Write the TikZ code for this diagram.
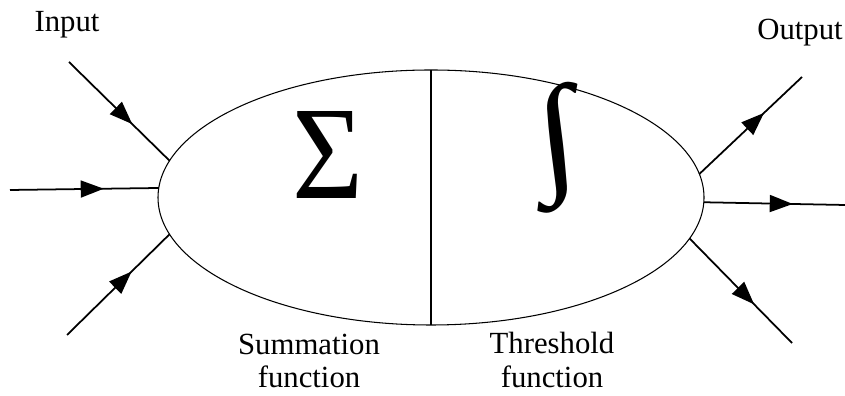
\documentclass[tikz,border=0pt]{standalone}
\usepackage{fontspec}
\setmainfont{Liberation Serif}
\usepackage{tikz}
\usetikzlibrary{arrows.meta,shapes.geometric,decorations.markings}
\tikzset{
  cell/.style={draw=black,ellipse,line width=0.6pt,inner sep=0pt,outer sep=0pt,minimum width=10.92cm,minimum height=5.1cm},
  wire/.style={draw=black,line width=1pt,postaction={decorate},decoration={markings,mark=at position 0.63 with {\arrow{Triangle[length=4.6mm,width=3.4mm]}}}},
  txt/.style={align=center,inner sep=0pt,font=\fontsize{17.5}{19}\selectfont}
}
\begin{document}
\begin{tikzpicture}[x=1cm,y=1cm]
  \useasboundingbox (0,0) rectangle (16.9,7.92);
  \node[cell] (neuron) at (8.62,3.97) {};
  \draw[line width=0.6pt] (neuron.north)--(neuron.south);
  \node[inner sep=0pt] (sum) at (6.55,4.82) {\resizebox*{1.42cm}{1.74cm}{Σ}};
  \begin{scope}[shift={(11.16,4.97)},xslant=-0.12]
    \node[inner sep=0pt,transform shape] (thr) {\resizebox*{0.8cm}{2.62cm}{\bfseries ∫}};
  \end{scope}
  \coordinate (in1) at (1.38,6.68); \coordinate (in2) at (0.2,4.12); \coordinate (in3) at (1.34,1.22);
  \coordinate (out1) at (16.04,6.38); \coordinate (out2) at (16.9,3.82); \coordinate (out3) at (15.84,1.06);
  \draw[wire] (in1)--(neuron.172); \draw[wire] (in2)--(neuron.178); \draw[wire] (in3)--(neuron.188);
  \draw[wire] (neuron.5)--(out1); \draw[wire] (neuron.-1)--(out2); \draw[wire] (neuron.-9)--(out3);
  \node[txt] (input) at (1.34,7.42) {Input};
  \node[txt] (output) at (16.0,7.26) {Output};
  \node[txt] (sumlbl) at (6.18,0.7) {Summation\\function};
  \node[txt] (thrlbl) at (11.04,0.72) {Threshold\\function};
\end{tikzpicture}
\end{document}
